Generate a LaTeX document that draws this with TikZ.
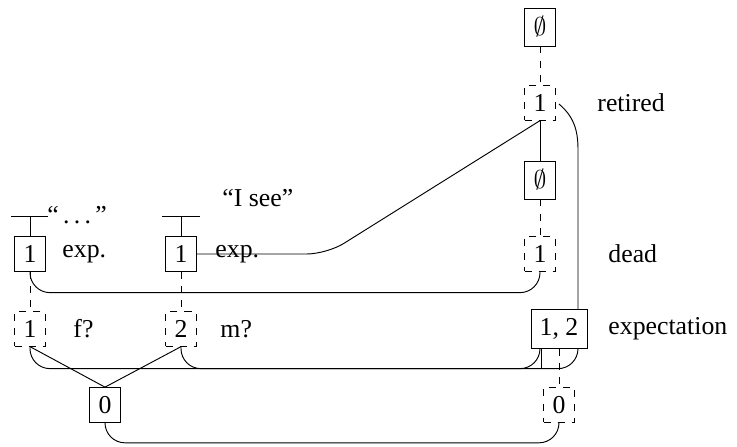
\documentclass[tikz,border=0pt]{standalone}
\usepackage{fontspec}
\setmainfont{Liberation Serif}
\usetikzlibrary{calc}

\tikzset{
  sbox/.style={draw, inner sep=3.7pt, minimum width=13.2pt},
  dbox/.style={draw, dashed, inner sep=3.7pt, minimum width=13.2pt},
  lbl/.style={anchor=west, inner sep=0pt},
}

\begin{document}
\begin{tikzpicture}[x=0.015cm, y=-0.015cm, font=\fontsize{11}{13}\selectfont]
    \useasboundingbox (0,0) rectangle (737,447);
    % right column
    \node[sbox, minimum height=16pt] (e0) at (540,27) {$\emptyset$};
    \node[dbox] (r1) at (540,103) {1};
    \node[sbox, minimum height=16pt] (e1) at (540,180) {$\emptyset$};
    \node[dbox] (d1) at (540,254) {1};
    \node[sbox] (x12) at (559,329) {1, 2};
    \node[dbox] (z0) at (559,405) {0};
    % left part
    \node[sbox] (a1) at (30,254) {1};
    \node[sbox] (b1) at (181,254) {1};
    \node[dbox] (f1) at (30,329) {1};
    \node[dbox] (m2) at (181,329) {2};
    \node[sbox] (o0) at (105,405) {0};
    % labels
    \node[lbl] (lret) at (597,103) {retired};
    \node[lbl] (ldead) at (608,254) {dead};
    \node[lbl] (lexpect) at (608,329) {expectation};
    \node[lbl] (lexpa) at (62,254) {exp.};
    \node[lbl] (lexpb) at (215,254) {exp.};
    \node[lbl] (lf) at (73,329) {f?};
    \node[lbl] (lm) at (220,329) {m?};
    \node[anchor=base west, inner sep=0pt] (qa) at (47,224) {``\,.\,.\,.\,''};
    \node[anchor=base west, inner sep=0pt] (qb) at (222,207) {``I see''};
    % utterance bars
    \coordinate (abar) at (30,216);
    \coordinate (bbar) at (181,216);
    \draw ($(abar)+(-19,0)$) -- ($(abar)+(18,0)$);
    \draw ($(bbar)+(-19,0)$) -- ($(bbar)+(19,0)$);
    \draw (abar) -- (a1);
    \draw (bbar) -- (b1);
    % vertical links
    \draw[dashed] (e0) -- (r1);
    \draw (r1) -- (e1);
    \draw[dashed] (e1) -- (d1);
    \draw[dashed] (a1) -- (f1);
    \draw[dashed] (b1) -- (m2);
    \draw[dashed] (x12.south) -- (z0.north);
    \draw (f1.south) -- (o0.north);
    \draw (m2.south) -- (o0.north);
    \draw ($(d1.south)+(8,0)$) -- ($(d1.south)+(8,0)$ |- x12.north);
    \draw ($(r1.east)+(3,1)$) to[out=-40, in=90] ($(x12.north)+(19,-160)$) -- ($(x12.north)+(19,0)$);
    % long links
    \draw[rounded corners=0.3cm] (b1.east) -- ++(130,0) -- (r1.south);
    \draw[rounded corners=0.3cm] (a1.south) -- ++(0,21) -| (d1.south);
    \draw[rounded corners=0.3cm] (f1.south) -- ++(0,22) -| ($(x12.south)+(-19,0)$);
    \draw[rounded corners=0.3cm] (m2.south) -- ++(0,22) -| ($(x12.south)+(19,0)$);
    \draw ($(x12.south)+(-18,0)$) -- ++(0,20);
    \draw[rounded corners=0.3cm] (o0.south) -- ++(0,20) -| (z0.south);
\end{tikzpicture}
\end{document}
